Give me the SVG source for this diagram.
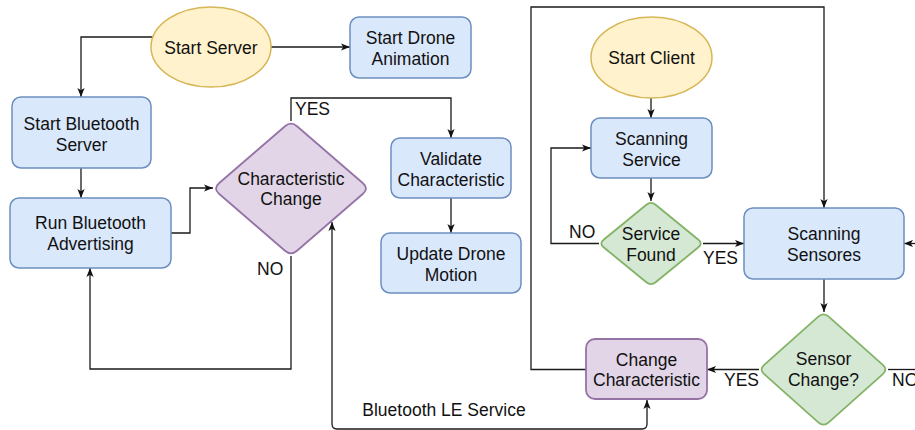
<svg xmlns="http://www.w3.org/2000/svg" width="915" height="430" viewBox="0 0 915 430">
<style>
text{font-family:"Liberation Sans",Arial,Helvetica,sans-serif;font-size:17.5px;fill:#111;text-anchor:middle}
.lbl{text-anchor:start}
.blue{fill:#dae8fc;stroke:#6c8ebf;stroke-width:1.5}
.yellow{fill:#fff2cc;stroke:#d6b656;stroke-width:1.5}
.purple{fill:#e1d5e7;stroke:#9673a6;stroke-width:1.8}
.green{fill:#d5e8d4;stroke:#82b366;stroke-width:1.8}
.c{fill:none;stroke:#1a1a1a;stroke-width:1.3}
.a{marker-end:url(#ah)}
</style>
<defs>
<marker id="ah" viewBox="0 0 10 8" refX="10" refY="4" markerWidth="9" markerHeight="8" markerUnits="userSpaceOnUse" orient="auto-start-reverse">
<path d="M0,0 L10,4 L0,8 L2.5,4 Z" fill="#111"/>
</marker>
</defs>
<rect width="915" height="430" fill="#fff"/>
<g id="connectors">
<path class="c a" d="M153,37 L81,37 L81,97"/>
<path class="c a" d="M271,47 L350,47"/>
<path class="c a" d="M81,168 L81,198"/>
<path class="c a" d="M171,233 L190,233 L190,188 L213,188"/>
<path class="c a" d="M291,121 L291,98 L451,98 L451,138"/>
<path class="c a" d="M451,198 L451,233"/>
<path class="c a" d="M291,256 L291,369 L90,369 L90,268"/>
<path class="c a" d="M332,222 L332,424 Q332,429 337,429 L642,429 Q647,429 647,424 L647,400" style="marker-start:url(#ah)"/>
<path class="c a" d="M651,98 L651,118"/>
<path class="c a" d="M651,178 L651,201"/>
<path class="c a" d="M599,243.5 L551,243.5 L551,148 L591,148"/>
<path class="c a" d="M703,243.5 L744,243.5"/>
<path class="c a" d="M916,243.5 L904,243.5"/>
<path class="c a" d="M824,279 L824,312"/>
<path class="c a" d="M759,369.5 L707,369.5"/>
<path class="c" d="M888,369.5 L916,369.5"/>
<path class="c a" d="M586,369.5 L531,369.5 L531,7 L824,7 L824,208"/>
<text class="lbl" x="295" y="115">YES</text>
<text class="lbl" x="257" y="275">NO</text>
<text x="444" y="416">Bluetooth LE Service</text>
<text class="lbl" x="569" y="237.5">NO</text>
<text class="lbl" x="703" y="263.5">YES</text>
<text class="lbl" x="724" y="386">YES</text>
<text class="lbl" x="892" y="386">NO</text>
</g>
<g id="start-server">
<ellipse class="yellow" cx="211" cy="47" rx="60" ry="40"/>
<text x="211" y="54">Start Server</text>
</g>
<g id="start-drone-animation">
<rect class="blue" x="350" y="17" width="121" height="61" rx="9"/>
<text x="410.5" y="44">Start Drone</text>
<text x="410.5" y="65">Animation</text>
</g>
<g id="start-bluetooth-server">
<rect class="blue" x="12" y="97" width="139" height="71" rx="9"/>
<text x="81.5" y="129.5">Start Bluetooth</text>
<text x="81.5" y="151">Server</text>
</g>
<g id="run-bluetooth-advertising">
<rect class="blue" x="10" y="198" width="161" height="70" rx="9"/>
<text x="90.5" y="229">Run Bluetooth</text>
<text x="90.5" y="250">Advertising</text>
</g>
<g id="characteristic-change">
<path class="purple" d="M285,126.2 Q291,121 297,126.2 L363,183.3 Q369,188.5 363,193.7 L297,250.8 Q291,256 285,250.8 L219,193.7 Q213,188.5 219,183.3 Z"/>
<text x="291" y="185">Characteristic</text>
<text x="291" y="205">Change</text>
</g>
<g id="validate-characteristic">
<rect class="blue" x="391" y="138" width="120" height="60" rx="9"/>
<text x="451" y="165">Validate</text>
<text x="451" y="185.5">Characteristic</text>
</g>
<g id="update-drone-motion">
<rect class="blue" x="381" y="233" width="140" height="60" rx="9"/>
<text x="451" y="260">Update Drone</text>
<text x="451" y="281">Motion</text>
</g>
<g id="start-client">
<ellipse class="yellow" cx="651.5" cy="57.5" rx="60.5" ry="40.5"/>
<text x="651.5" y="64">Start Client</text>
</g>
<g id="scanning-service">
<rect class="blue" x="591" y="118" width="121" height="60" rx="9"/>
<text x="651.5" y="145">Scanning</text>
<text x="651.5" y="165.5">Service</text>
</g>
<g id="service-found">
<path class="green" d="M646.4,204.8 Q651,201 655.6,204.8 L698.4,239.7 Q703,243.5 698.4,247.3 L655.6,282.2 Q651,286 646.4,282.2 L603.6,247.3 Q599,243.5 603.6,239.7 Z"/>
<text x="651" y="240">Service</text>
<text x="651" y="261">Found</text>
</g>
<g id="scanning-sensores">
<rect class="blue" x="744" y="208" width="160" height="71" rx="9"/>
<text x="824" y="240">Scanning</text>
<text x="824" y="261">Sensores</text>
</g>
<g id="sensor-change">
<path class="green" d="M818.3,316.7 Q823.5,312 828.7,316.7 L882.8,364.8 Q888,369.5 882.8,374.2 L828.7,422.3 Q823.5,427 818.3,422.3 L764.2,374.2 Q759,369.5 764.2,364.8 Z"/>
<text x="823.5" y="365">Sensor</text>
<text x="823.5" y="386">Change?</text>
</g>
<g id="change-characteristic">
<rect class="purple" x="586" y="339" width="121" height="60" rx="9"/>
<text x="646.5" y="365.5">Change</text>
<text x="646.5" y="385.5">Characteristic</text>
</g>
</svg>
